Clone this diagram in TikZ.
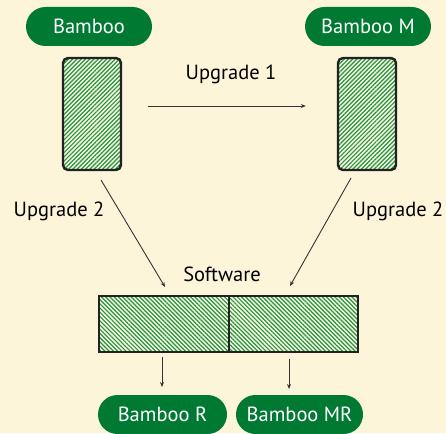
\documentclass[tikz,border=0pt]{standalone}
\usepackage{fontspec}
\setmainfont{PT Sans}
\usetikzlibrary{patterns.meta,arrows.meta}
\definecolor{bg}{HTML}{FDF5DA}
\definecolor{bgreen}{HTML}{007A33}
\definecolor{hgreen}{HTML}{1E9448}
\definecolor{edge}{HTML}{222222}
\definecolor{arr}{HTML}{333333}
\begin{document}
\begin{tikzpicture}[x=1pt,y=-1pt,
  pill/.style={fill=bgreen,text=white,rounded corners=19.5pt,minimum height=39pt,inner sep=0pt,font=\fontsize{20.5}{22}\selectfont},
  tallbox/.style={draw=edge,line width=2.4pt,rounded corners=5pt,minimum width=58pt,minimum height=112pt,inner sep=0pt,
    pattern={Lines[angle=45,distance=3pt,line width=1.2pt]},pattern color=hgreen},
  swbox/.style={draw=edge,line width=2pt,minimum height=56pt,inner sep=0pt,
    pattern={Lines[angle=-45,distance=3pt,line width=1.2pt]},pattern color=hgreen},
  lbl/.style={font=\fontsize{20.5}{22}\selectfont,text=black,inner sep=0pt},
  conn/.style={draw=arr,line width=0.9pt,-{Stealth[length=5pt,width=4pt]}}]
\fill[bg] (0,0) rectangle (446,433);
\useasboundingbox (0,0) rectangle (446,433);
\node[pill,minimum width=126pt] (b) at (89,26.5) {Bamboo};
\node[pill,minimum width=126pt] (bm) at (368,26.5) {Bamboo M};
\node[tallbox] (l) at (92,114) {};
\node[tallbox] (r) at (367,114) {};
\node[swbox,minimum width=130pt] (s1) at (164,324) {};
\node[swbox,minimum width=129pt] (s2) at (293.5,324) {};
\node[pill,minimum width=129pt] (br) at (162.5,414.5) {Bamboo R};
\node[pill,minimum width=127pt] (bmr) at (299.5,414.5) {Bamboo MR};
\node[lbl] (u1) at (231,74) {Upgrade 1};
\node[lbl] (u2l) at (59,211) {Upgrade 2};
\node[lbl] (u2r) at (398,211) {Upgrade 2};
\node[lbl] (sw) at (222,274) {Software};
\coordinate (la) at (101,180);
\coordinate (lb) at (165,287);
\coordinate (ra) at (351,178);
\coordinate (rb) at (290,286);
\coordinate (da1) at (162,357);
\coordinate (db1) at (162,387);
\coordinate (da2) at (289,359);
\coordinate (db2) at (289,389);
\draw[conn,shorten <=26pt,shorten >=31pt] (l.east |- 0,106) -- (r.west |- 0,106);
\draw[conn] (la) -- (lb);
\draw[conn] (ra) -- (rb);
\draw[conn] (da1) -- (db1);
\draw[conn] (da2) -- (db2);
\end{tikzpicture}
\end{document}
